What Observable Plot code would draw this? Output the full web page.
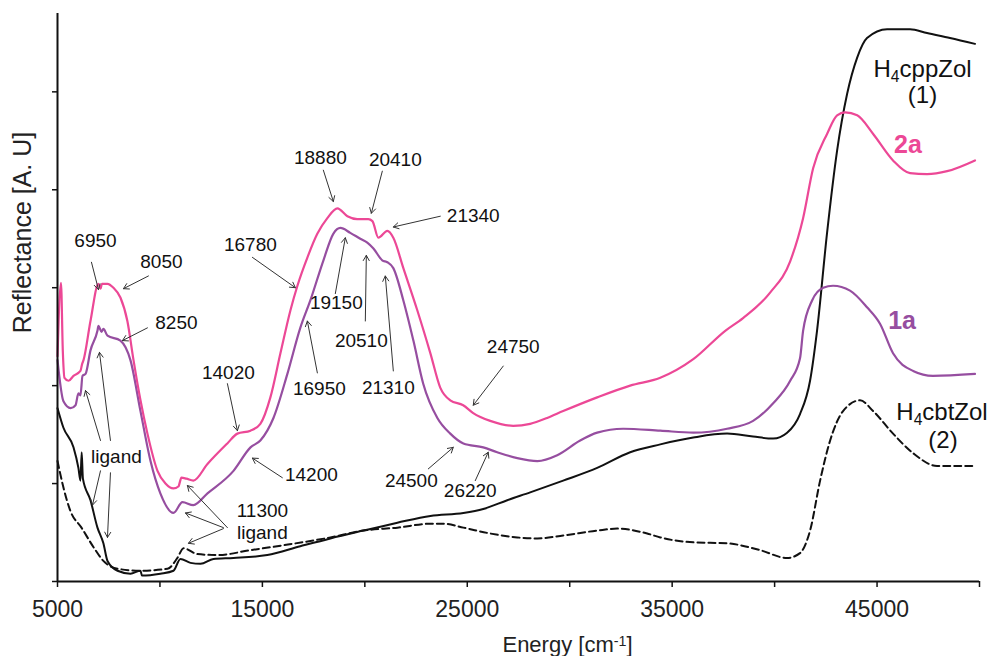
<!DOCTYPE html>
<html>
<head>
<meta charset="utf-8">
<script src="https://cdn.jsdelivr.net/npm/d3@7"></script>
<script src="https://cdn.jsdelivr.net/npm/@observablehq/plot@0.6"></script>
<style>
  html, body { margin: 0; padding: 0; background: #fff; }
  #chart { width: 991px; height: 656px; }
</style>
</head>
<body>
<div id="chart"></div>
<script>
// ---------- Data (energy in cm^-1, reflectance in arbitrary units) ----------
const energy2a = [5000,5170,5260,5340,5540,5780,6120,6200,6270,6610,7000,7100,7170,7440,7730,8070,8410,8710,9050,9390,9880,10270,10660,10900,11050,11290,11630,12320,13290,13780,14420,14900,15390,15880,16370,16710,17200,17680,18170,18660,19150,19630,20170,20370,20660,21100,21390,21880,22560,23200,23680,24170,24800,25290,26120,27240,28070,28900,29680,31340,32950,34420,36030,37590,38460,39780,40760,41390,41880,42560,43050,43440,44030,44810,45780,46610,47440,48420,49780];
const refl2a = [2.30,3.05,2.35,2.08,2.05,2.10,2.15,2.22,2.26,2.66,3.04,2.99,3.04,3.04,3.00,2.90,2.66,2.26,1.85,1.51,1.13,1.00,0.95,0.97,1.06,1.05,1.03,1.20,1.41,1.51,1.54,1.61,1.88,2.33,2.77,3.02,3.31,3.55,3.71,3.81,3.73,3.70,3.70,3.68,3.51,3.58,3.51,3.20,2.77,2.33,1.98,1.85,1.80,1.72,1.64,1.59,1.61,1.67,1.74,1.88,2.00,2.08,2.27,2.56,2.69,2.95,3.27,3.71,4.22,4.57,4.76,4.79,4.76,4.57,4.30,4.17,4.16,4.19,4.30];

const energy1a = [5000,5290,5640,5880,6020,6120,6220,6370,6610,6950,7000,7150,7240,7440,8070,8560,9050,9540,10020,10660,11100,11630,12320,13590,14420,14900,15540,16220,16850,17340,17980,18460,18810,19290,19780,20120,20420,20850,21100,21390,21880,22370,22850,23540,24170,24810,25780,26460,27440,28420,29390,30510,31340,32610,34420,36030,37680,38950,39930,40760,41240,41390,41830,42370,42850,43680,44510,45150,45780,46760,47730,49780];
const refl1a = [2.26,1.84,1.77,1.80,1.92,1.90,2.10,2.12,2.36,2.56,2.61,2.55,2.58,2.51,2.46,2.26,1.74,1.23,0.90,0.70,0.81,0.78,0.90,1.13,1.37,1.44,1.67,2.12,2.59,2.87,3.28,3.55,3.61,3.56,3.50,3.46,3.40,3.28,3.26,3.20,2.87,2.46,2.02,1.67,1.51,1.41,1.37,1.32,1.26,1.23,1.29,1.44,1.52,1.56,1.54,1.52,1.56,1.64,1.82,2.05,2.28,2.56,2.87,3.00,3.02,2.97,2.80,2.63,2.33,2.15,2.10,2.12];

const energyCpp = [5000,5290,5780,6020,6120,6180,6240,6610,6950,7240,7440,7930,8560,9050,9120,10020,10660,11000,11490,11980,12610,13590,15240,16850,18320,19930,21590,23200,24810,25780,26950,28070,29680,31340,32950,34420,36030,37680,38950,39930,40610,41240,41730,42070,42560,43050,43540,44030,44510,45490,46610,47440,48560,49780];
const reflCpp = [1.77,1.57,1.37,1.16,1.03,1.32,1.05,0.83,0.55,0.39,0.21,0.11,0.08,0.11,0.06,0.08,0.11,0.23,0.19,0.18,0.23,0.24,0.27,0.36,0.44,0.52,0.60,0.67,0.70,0.74,0.83,0.91,1.03,1.16,1.32,1.40,1.47,1.51,1.48,1.46,1.52,1.71,2.05,2.56,3.56,4.40,4.98,5.35,5.55,5.64,5.64,5.60,5.55,5.49];

const energyCbt = [5000,5290,5630,6170,6760,7240,7930,9050,10370,10850,11150,11830,12810,14420,16020,18320,19930,21590,23200,23830,24810,26120,27440,28420,29680,31340,32320,33780,34420,36030,37680,39290,40610,41240,41730,42220,42710,43340,44170,44810,45780,46760,47930,49780];
const reflCbt = [1.23,0.96,0.72,0.55,0.35,0.21,0.13,0.11,0.13,0.24,0.34,0.28,0.27,0.32,0.37,0.45,0.52,0.55,0.59,0.59,0.55,0.49,0.45,0.44,0.47,0.52,0.54,0.49,0.45,0.40,0.39,0.32,0.24,0.29,0.52,1.03,1.44,1.74,1.85,1.74,1.51,1.31,1.18,1.18];

const xTicks = [5000,10000,15000,20000,25000,30000,35000,40000,45000,50000];
const xTickLabels = ["5000","","15000","","25000","","35000","","45000",""];
const yTicks = [0,1,2,3,4,5];

// Peak annotations: label, label position, arrow start and end (data units)
const noteLabels = ["6950","8050","8250","16780","18880","20410","21340","19150","20510","21310","16950","14020","14200","11300","ligand","ligand","24750","24500","26220"];
const noteX = [6854,10073,10805,14415,17829,21488,25292,18609,19829,21146,17780,13341,17390,15000,15000,7878,27244,22268,25146];
const noteY = [3.48,3.26,2.64,3.44,4.33,4.30,3.73,2.84,2.46,1.98,1.97,2.13,1.09,0.72,0.50,1.27,2.40,1.03,0.92];

const arrowX1 = [6658,9439,9390,14512,17975,20853,23683,18560,20024,21390,17683,13293,15975,13293,13098,13098,7098,7585,7098,7585,26756,23097,25390];
const arrowY1 = [3.26,3.12,2.59,3.31,4.20,4.19,3.73,2.94,2.66,2.15,2.13,2.02,1.06,0.55,0.55,0.54,1.44,1.44,1.13,1.11,2.20,1.15,1.03];
const arrowX2 = [7000,8219,8171,16610,18463,20317,21390,19048,20073,20999,17195,13780,14512,11341,11244,11390,6366,7049,6707,7439,25293,24317,26024];
const arrowY2 = [2.98,2.99,2.46,3.00,3.88,3.76,3.62,3.51,3.33,3.12,2.66,1.54,1.26,0.98,0.70,0.39,1.95,2.34,0.78,0.45,1.80,1.37,1.32];

// Series labels
const ligandNames = ["H_{4}cppZol","(1)","H_{4}cbtZol","(2)"];
const ligandNameX = [47220,47220,48170,48220];
const ligandNameY = [5.23,4.96,1.73,1.44];
const complexNames = ["2a","1a"];
const complexNameX = [46510,46220];
const complexNameY = [4.46,2.66];

// ---------- Build tables ----------
const zipXY = (xs, ys) => xs.map((x, i) => ({x, y: ys[i]}));
const s2a = zipXY(energy2a, refl2a);
const s1a = zipXY(energy1a, refl1a);
const sCpp = zipXY(energyCpp, reflCpp);
const sCbt = zipXY(energyCbt, reflCbt);
const notes = noteLabels.map((t, i) => ({t, x: noteX[i], y: noteY[i]}));
const arrows = arrowX1.map((x1, i) => ({x1, y1: arrowY1[i], x2: arrowX2[i], y2: arrowY2[i]}));
const ligLabels = ligandNames.map((t, i) => ({t, x: ligandNameX[i], y: ligandNameY[i]}));
const cxLabels = complexNames.map((t, i) => ({t, x: complexNameX[i], y: complexNameY[i]}));

const PINK = "#ec4896";
const PURPLE = "#964ea0";
const FONT = "'Liberation Sans', Arial, Helvetica, sans-serif";
const CURVE = "monotone-x";

const chart = Plot.plot({
  width: 991,
  height: 656,
  marginLeft: 57,
  marginRight: 12,
  marginTop: 13,
  marginBottom: 75,
  x: {domain: [5000, 50000], label: null},
  y: {domain: [0, 5.8], label: null},
  style: {fontFamily: FONT, background: "white", color: "#111", overflow: "visible"},
  marks: [
    Plot.axisY({ticks: yTicks, tickSize: 5, tickFormat: () => "", strokeWidth: 1.5, label: null}),
    Plot.axisX({ticks: xTicks, tickSize: 6, tickPadding: 13, tickFormat: d => xTickLabels[xTicks.indexOf(d)] ?? "", fontSize: 23, strokeWidth: 1.5, label: null, fill: "#222"}),
    Plot.line(sCbt, {x: "x", y: "y", stroke: "#111", strokeWidth: 2, strokeDasharray: "7,4", curve: CURVE}),
    Plot.line(sCpp, {x: "x", y: "y", stroke: "#111", strokeWidth: 2, curve: CURVE}),
    Plot.line(s1a, {x: "x", y: "y", stroke: PURPLE, strokeWidth: 2.2, curve: CURVE}),
    Plot.line(s2a, {x: "x", y: "y", stroke: PINK, strokeWidth: 2.2, curve: CURVE}),
    Plot.arrow(arrows, {x1: "x1", y1: "y1", x2: "x2", y2: "y2", stroke: "#333", strokeWidth: 1, headLength: 9}),
    Plot.text(notes, {x: "x", y: "y", text: "t", fontSize: 19, fill: "#111"}),
    Plot.text(ligLabels, {x: "x", y: "y", text: "t", fontSize: 24, fill: "#111"}),
    Plot.text(cxLabels.slice(0, 1), {x: "x", y: "y", text: "t", fontSize: 25, fill: PINK, fontWeight: "bold"}),
    Plot.text(cxLabels.slice(1), {x: "x", y: "y", text: "t", fontSize: 25, fill: PURPLE, fontWeight: "bold"}),
    Plot.ruleX([5000], {stroke: "#111", strokeWidth: 2}),
    Plot.ruleY([0], {stroke: "#111", strokeWidth: 2}),
    Plot.text(["Energy [cm^{-1}]"], {frameAnchor: "bottom", textAnchor: "middle", lineAnchor: "middle", dx: 49, dy: 63, fontSize: 22, fill: "#222"}),
    Plot.text(["Reflectance [A. U]"], {frameAnchor: "left", textAnchor: "middle", lineAnchor: "middle", rotate: -90, dx: -35, dy: -65, fontSize: 25, fill: "#222"})
  ]
});

// sub/superscript markup -> tspans
chart.querySelectorAll("text").forEach(t => {
  const s = t.textContent;
  if (!/[_^]\{/.test(s)) return;
  while (t.firstChild) t.removeChild(t.firstChild);
  const re = /([_^])\{([^}]*)\}/g;
  let last = 0, m;
  const ns = "http://www.w3.org/2000/svg";
  const add = (txt, kind) => {
    if (!txt) return;
    const sp = document.createElementNS(ns, "tspan");
    sp.textContent = txt;
    if (kind) {
      sp.setAttribute("font-size", "65%");
      sp.setAttribute("baseline-shift", kind === "_" ? "-30%" : "45%");
    }
    t.appendChild(sp);
  };
  while ((m = re.exec(s))) {
    add(s.slice(last, m.index));
    add(m[2], m[1]);
    last = re.lastIndex;
  }
  add(s.slice(last));
});

document.getElementById("chart").appendChild(chart);
</script>
</body>
</html>
